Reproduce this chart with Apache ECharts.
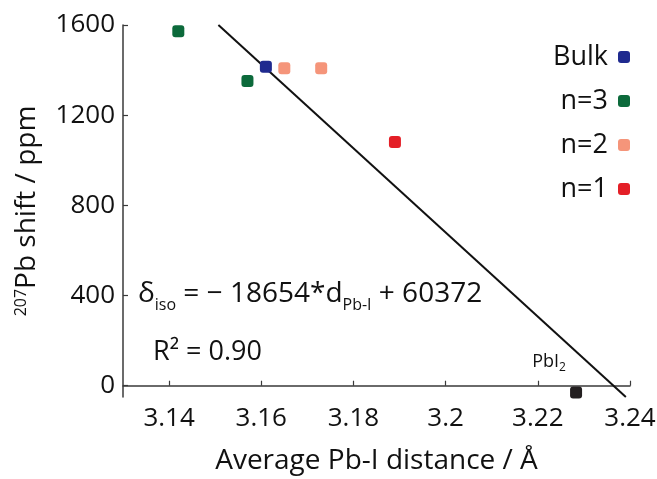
<!DOCTYPE html>
<html>
<head>
<meta charset="utf-8">
<script src="https://cdn.jsdelivr.net/npm/echarts@6/dist/echarts.min.js"></script>
<style>html,body{margin:0;padding:0;background:#fff;}#c{width:657px;height:479px;}</style>
</head>
<body>
<div id="c"></div>
<script>
// Data
var bulk = [[3.161, 1415]];
var n3 = [[3.142, 1572], [3.157, 1352]];
var n2 = [[3.165, 1408], [3.173, 1408]];
var n1 = [[3.189, 1081]];
var pbi2 = [[3.2283, -30]];
var fitLine = [[3.1507, 1600], [3.2391, -50]];
var xTicks = [3.14, 3.16, 3.18, 3.2, 3.22, 3.24];
var yTicks = [0, 400, 800, 1200, 1600];
var legendNames = ['Bulk', 'n=3', 'n=2', 'n=1'];

var FONT = 'Open Sans';
var INK = '#111111';
var chart = echarts.init(document.getElementById('c'), null, {renderer: 'canvas'});
var mk = function (name, data, color) {
  return {
    name: name, type: 'scatter', data: data, symbol: 'roundRect', symbolSize: 12,
    itemStyle: {color: color, opacity: 1}, z: 3
  };
};
var axisCommon = {
  axisLine: {show: true, lineStyle: {color: '#3a3a3a', width: 1.5}},
  axisTick: {show: true, inside: true, length: 5, lineStyle: {color: '#3a3a3a', width: 1.2}},
  splitLine: {show: false}
};
var option = {
  animation: false,
  backgroundColor: '#fff',
  grid: {left: 123, right: 27, top: 25, bottom: 82, containLabel: false, outerBoundsMode: 'none'},
  xAxis: Object.assign({}, axisCommon, {
    type: 'value', min: 3.13, max: 3.24,
    axisTick: Object.assign({}, axisCommon.axisTick, {customValues: xTicks}),
    axisLabel: {customValues: xTicks, fontFamily: FONT, fontSize: 26, color: INK, margin: 9,
      formatter: function (v) { return String(Math.round(v * 100) / 100); }},
    name: 'Average Pb-I distance / Å', nameLocation: 'middle', nameGap: 50,
    nameTextStyle: {fontFamily: FONT, fontSize: 28, color: INK}
  }),
  yAxis: Object.assign({}, axisCommon, {
    type: 'value', min: -50, max: 1600,
    axisTick: Object.assign({}, axisCommon.axisTick, {customValues: yTicks}),
    axisLabel: {customValues: yTicks, fontFamily: FONT, fontSize: 26, color: INK, margin: 8,
      formatter: function (v) { return String(v); }},
    name: '{sup|207}Pb shift / ppm', nameLocation: 'middle', nameGap: 82, nameRotate: 90,
    nameTextStyle: {fontFamily: FONT, fontSize: 28, color: INK,
      rich: {sup: {fontFamily: FONT, fontSize: 16, color: INK, verticalAlign: 'top', padding: [0, 0, 12, 0]}}}
  }),
  legend: {
    data: legendNames, orient: 'vertical', right: 27, top: 42, align: 'right', padding: 0,
    itemWidth: 12, itemHeight: 12, itemGap: 14,
    textStyle: {fontFamily: FONT, fontSize: 27, color: INK, lineHeight: 30, padding: [0, 5, 0, 0]}
  },
  graphic: [
    {type: 'text', left: 138, top: 280, z: 10, style: {
      text: 'δ{sub|iso} = − 18654*d{sub|Pb-I} + 60372',
      font: '28px "Open Sans"', fill: INK,
      rich: {sub: {fontFamily: FONT, fontSize: 16, fill: INK, padding: [22, 0, 0, 0]}}
    }},
    {type: 'text', left: 153, top: 339, z: 10, style: {
      text: 'R² = 0.90', font: '27px "Open Sans"', fill: INK
    }}
  ],
  series: [
    {name: 'fit', type: 'line', data: fitLine, showSymbol: false, symbol: 'none', silent: true,
      lineStyle: {color: '#111', width: 2}, z: 2},
    mk('Bulk', bulk, '#1f2a8f'),
    mk('n=3', n3, '#0c6a3b'),
    mk('n=2', n2, '#f5957a'),
    mk('n=1', n1, '#e41f27'),
    {name: 'PbI2', type: 'scatter', data: pbi2, symbol: 'roundRect', symbolSize: 12,
      itemStyle: {color: '#231f20', opacity: 1}, z: 3,
      label: {show: true, position: 'top', offset: [-27, -8], formatter: 'PbI{s|2}',
        fontFamily: FONT, fontSize: 18, color: INK,
        rich: {s: {fontFamily: FONT, fontSize: 12, color: INK, padding: [12, 0, 0, 0]}}}}
  ]
};
chart.setOption(option);
</script>
</body>
</html>
